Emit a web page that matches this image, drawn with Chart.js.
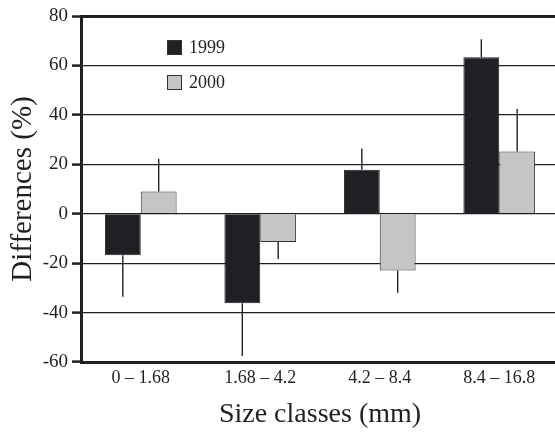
<!DOCTYPE html>
<html>
<head>
<meta charset="utf-8">
<script src="https://cdn.jsdelivr.net/npm/chart.js@4"></script>
<style>
  html, body { margin: 0; padding: 0; background: #fff; overflow: hidden; }
  #wrap { width: 559px; height: 432px; }
</style>
</head>
<body>
<div id="wrap"><canvas id="myChart"></canvas></div>
<script>
const categories = ['0 – 1.68', '1.68 – 4.2', '4.2 – 8.4', '8.4 – 16.8'];
const values1999 = [-16.8, -36.2, 17.8, 63.3];
const values2000 = [9.0, -11.4, -23.0, 25.2];
// one-sided error bars (drawn away from zero)
const errors1999 = [16.8, 21.4, 8.6, 7.3];
const errors2000 = [13.2, 6.9, 9.0, 17.2];
const yTicks = [-60, -40, -20, 0, 20, 40, 60, 80];

const serif = "'Liberation Serif', 'Times New Roman', serif";
const ink = '#1f2023';

// draws the single error whisker on each bar
const errorBars = {
    id: 'errorBars',
    afterDatasetsDraw(chart) {
        const ctx = chart.ctx;
        const y = chart.scales.y;
        chart.data.datasets.forEach((ds, i) => {
            const meta = chart.getDatasetMeta(i);
            meta.data.forEach((bar, j) => {
                const v = ds.data[j];
                const end = v + Math.sign(v) * ds.errors[j];
                ctx.save();
                ctx.strokeStyle = ink;
                ctx.lineWidth = 1.4;
                ctx.beginPath();
                ctx.moveTo(bar.x, bar.y);
                ctx.lineTo(bar.x, y.getPixelForValue(end));
                ctx.stroke();
                ctx.restore();
            });
        });
    }
};

// legend sits inside the plot, top left
const insideLegend = {
    id: 'insideLegend',
    afterDraw(chart) {
        const ctx = chart.ctx;
        ctx.save();
        chart.data.datasets.forEach((ds, i) => {
            const bx = 167, by = 40 + i * 35;
            ctx.fillStyle = ds.backgroundColor;
            ctx.fillRect(bx, by, 15, 15);
            ctx.strokeStyle = '#333';
            ctx.lineWidth = 1;
            ctx.strokeRect(bx + 0.5, by + 0.5, 14, 14);
            ctx.fillStyle = ink;
            ctx.font = '18px ' + serif;
            ctx.textBaseline = 'middle';
            ctx.fillText(ds.label, bx + 22, by + 8);
        });
        ctx.restore();
    }
};

const ctx = document.querySelector('#myChart');
const myChart = new Chart(ctx, {
    type: 'bar',
    data: {
        labels: categories,
        datasets: [
            {
                label: '1999',
                data: values1999,
                errors: errors1999,
                backgroundColor: ink,
                borderColor: ink,
                borderWidth: 1
            },
            {
                label: '2000',
                data: values2000,
                errors: errors2000,
                backgroundColor: '#c4c5c7',
                borderColor: '#333',
                borderWidth: 1
            }
        ]
    },
    options: {
        responsive: true,
        maintainAspectRatio: false,
        animation: false,
        categoryPercentage: 0.6,
        barPercentage: 1.0,
        layout: { padding: { top: 16, right: 0, left: 0, bottom: 0 } },
        plugins: {
            legend: { display: false },
            tooltip: { enabled: false }
        },
        scales: {
            x: {
                grid: { display: false, drawTicks: false },
                border: { display: true, color: ink, width: 3 },
                ticks: {
                    color: ink,
                    font: { family: serif, size: 18 },
                    padding: 5
                },
                title: {
                    display: true,
                    text: 'Size classes (mm)',
                    color: ink,
                    font: { family: serif, size: 28 },
                    padding: { top: 0, bottom: 1 }
                },
                afterFit(scale) { scale.height = 70; }
            },
            y: {
                min: -60,
                max: 80,
                afterBuildTicks(scale) {
                    scale.ticks = yTicks.map(v => ({ value: v }));
                },
                grid: {
                    color: ink,
                    lineWidth: (c) => (c.tick && (c.tick.value === 80) ? 3 : 1.2),
                    drawTicks: true,
                    tickLength: 9,
                    tickWidth: 2.5,
                    tickColor: ink
                },
                border: { display: true, color: ink, width: 3 },
                ticks: {
                    color: ink,
                    font: { family: serif, size: 19 },
                    padding: 4
                },
                title: {
                    display: true,
                    text: 'Differences (%)',
                    color: ink,
                    font: { family: serif, size: 29 },
                    padding: { top: 6, bottom: 0 }
                },
                afterFit(scale) { scale.width = 81; }
            }
        }
    },
    plugins: [errorBars, insideLegend]
});
</script>
</body>
</html>
